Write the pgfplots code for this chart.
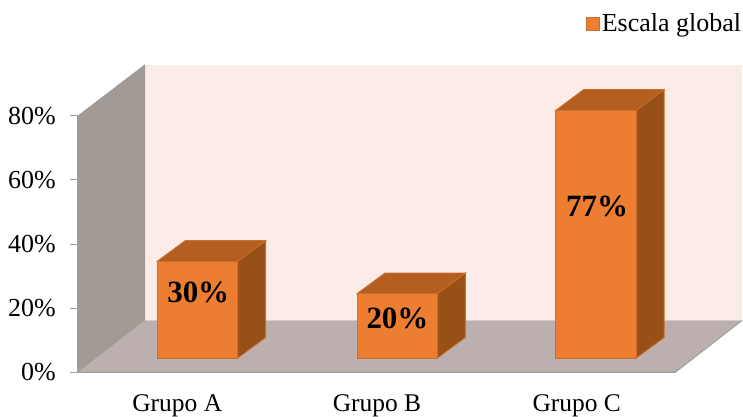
\documentclass[border=0pt]{standalone}
\usepackage{pgfplots}
\pgfplotsset{compat=1.18}
\usepackage{fontspec}
\setmainfont{Liberation Serif}
\definecolor{wallback}{HTML}{FBECE8}
\definecolor{wallside}{HTML}{A29A95}
\definecolor{floorc}{HTML}{BBB0AE}
\definecolor{edgegray}{HTML}{9E9E9E}
\definecolor{front}{HTML}{ED7D31}
\definecolor{topc}{HTML}{B55E22}
\definecolor{sidec}{HTML}{985019}
\definecolor{edgeo}{HTML}{C8702C}
\begin{document}
\begin{tikzpicture}[x=1pt,y=1pt]
\begin{axis}[
  scale only axis, width=598pt, height=257pt,
  xmin=78, xmax=676, ymin=0, ymax=80,
  clip=false,
  axis x line=bottom, axis y line=left,
  axis line style={-, draw=edgegray, line width=1pt},
  ytick={0,20,40,60,80},
  yticklabels={0\%,20\%,40\%,60\%,80\%},
  tick style={draw=edgegray, line width=1pt},
  tick align=outside,
  y tick style={draw=edgegray},
  major tick length=8pt,
  xtick={177.5,377.5,577.5},
  xticklabels={Grupo A,Grupo B,Grupo C},
  x tick style={opacity=0},
  every tick label/.append style={text=black},
  y tick label style={font=\fontsize{26}{28}\selectfont, inner sep=0pt, anchor=east, xshift=-14pt},
  x tick label style={font=\fontsize{25.5}{28}\selectfont, inner sep=0pt, anchor=base, yshift=-31pt},
  no markers,
  legend style={at={(axis cs:744,108.8)}, anchor=east, draw=none, fill=none, inner sep=0pt, outer sep=0pt,
    font=\fontsize{26}{28}\selectfont, text=black},
  legend cell align=left,
]
% walls and floor
\addplot[forget plot, fill=wallback, draw=none] coordinates {(145,95.9) (743,95.9) (743,16.2) (145,16.2)} --cycle;
\addplot[forget plot, fill=wallside, draw=edgegray, line width=.5pt] coordinates {(78,0) (78,80) (145,95.9) (145,16.2)} --cycle;
\addplot[forget plot, fill=floorc, draw=none] coordinates {(78,0) (145,16.2) (743,16.2) (676,0)} --cycle;
\addplot[forget plot, draw=edgegray, line width=1pt] coordinates {(78,0) (676,0) (743,16.2)};
% Grupo A: 30%
\addplot[forget plot, fill=sidec, draw=edgeo, line width=.8pt] coordinates {(238,4.47) (266,10.9) (266,41.1) (238,34.67)} --cycle;
\addplot[forget plot, fill=topc, draw=edgeo, line width=.8pt] coordinates {(157.5,34.67) (185.5,41.1) (266,41.1) (238,34.67)} --cycle;
\addplot[forget plot, fill=front, draw=edgeo, line width=.8pt] coordinates {(157.5,4.47) (238,4.47) (238,34.67) (157.5,34.67)} --cycle;
% Grupo B: 20%
\addplot[forget plot, fill=sidec, draw=edgeo, line width=.8pt] coordinates {(438,4.47) (466,10.9) (466,31) (438,24.57)} --cycle;
\addplot[forget plot, fill=topc, draw=edgeo, line width=.8pt] coordinates {(357.5,24.57) (385.5,31) (466,31) (438,24.57)} --cycle;
\addplot[forget plot, fill=front, draw=edgeo, line width=.8pt] coordinates {(357.5,4.47) (438,4.47) (438,24.57) (357.5,24.57)} --cycle;
% Grupo C: 77%
\addplot[forget plot, fill=sidec, draw=edgeo, line width=.8pt] coordinates {(637,4.47) (665,10.9) (665,88.2) (637,81.7)} --cycle;
\addplot[forget plot, fill=topc, draw=edgeo, line width=.8pt] coordinates {(556.5,81.7) (584.5,88.2) (665,88.2) (637,81.7)} --cycle;
\addplot[forget plot, fill=front, draw=edgeo, line width=.8pt] coordinates {(556.5,4.47) (637,4.47) (637,81.7) (556.5,81.7)} --cycle;
% legend
\addlegendimage{legend image code/.code={\draw[fill=front,draw=edgeo,line width=.8pt] (-2pt,-6.5pt) rectangle (11pt,6.5pt);}}
\addlegendentry{Escala global}
% data labels
\node[font=\fontsize{31}{33}\selectfont\bfseries, text=black] at (axis cs:198.5,25) {30\%};
\node[font=\fontsize{31}{33}\selectfont\bfseries, text=black] at (axis cs:398,16.8) {20\%};
\node[font=\fontsize{31}{33}\selectfont\bfseries, text=black] at (axis cs:598,51.7) {77\%};
% page extent
\path[use as bounding box] (axis cs:0,-13.7) rectangle (axis cs:743,116.1);
\end{axis}
\end{tikzpicture}
\end{document}
